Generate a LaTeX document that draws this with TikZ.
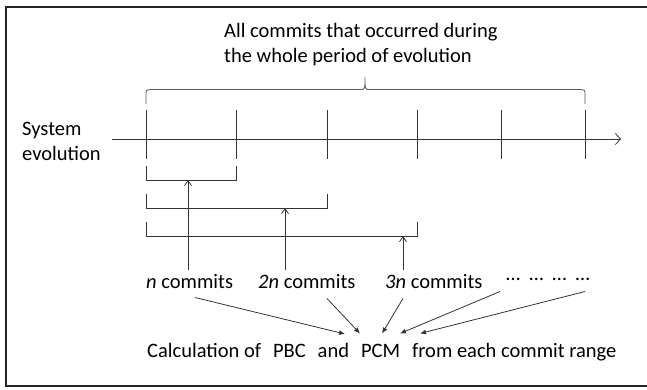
\documentclass[tikz,border=0pt]{standalone}
\usepackage{fontspec}
\setmainfont{Carlito}
\usetikzlibrary{arrows.meta}
\begin{document}
\begin{tikzpicture}[x=1pt,y=-1pt,
  ln/.style={line width=0.8pt, draw=black!80},
  txt/.style={inner sep=0pt, anchor=west, font=\fontsize{20.5}{25}\selectfont, text=black},
  upar/.style={ln, -{Straight Barb[length=5pt,width=7pt]}},
  dnar/.style={ln, -{Latex[length=6pt,width=5pt]}}]
\useasboundingbox (0,0) rectangle (647,389);
% frame
\draw[line width=1.6pt, draw=black!85] (647,7) -- (6,7) -- (6,386) -- (647,386);
% texts
\node[txt, align=left] (title) at (224,45) {All commits that occurred during\\the whole period of evolution};
\node[txt, align=left] (sys) at (22,141) {System\\evolution};
% axis
\coordinate (ax0) at (112,139);
\coordinate (ax1) at (621,139);
\draw[ln, -{Straight Barb[length=5pt,width=11pt]}] (ax0) -- (ax1);
\foreach \x/\n in {146/t0,236/t1,327/t2,417/t3,501/t4,585/t5}{
  \coordinate (\n a) at (\x,110);
  \coordinate (\n b) at (\x,159);
  \draw[ln] (\n a) -- (\n b);
}
% brace
\draw[line width=0.8pt, draw=black!65] (146,104) -- (146,95) .. controls (146,90) .. (151,89.5) -- (360,89.5) .. controls (365,89.5) .. (365,77) .. controls (365,89.5) .. (370,89.5) -- (580,89.5) .. controls (585,90) .. (585,95) -- (585,104);
% range brackets
\coordinate (r1) at (188,180);
\coordinate (r2) at (285,208);
\coordinate (r3) at (403,236);
\draw[ln] (146,166) -- (146,180) -- (236,180) -- (236,166);
\draw[ln] (146,194) -- (146,208) -- (327,208) -- (327,194);
\draw[ln] (146,222) -- (146,236) -- (417,236) -- (417,222);
% commit texts
\node[txt] (c1) at (146,282) {\textit{n} commits};
\node[txt] (c2) at (258,282) {\textit{2n} commits};
\node[txt] (c3) at (385,282) {\textit{3n} commits};
\node[txt] (c4) at (506,279) {…\hspace{9pt}…\hspace{9pt}…\hspace{9pt}…};
\draw[upar] (c1.north -| r1) ++(0,-5) -- (r1);
\draw[upar] (c2.north -| r2) ++(0,-5) -- (r2);
\draw[upar] (c3.north -| r3) ++(0,-5) -- (r3);
% bottom text
\node[txt] (calc) at (147,352) {Calculation of\hspace{12pt}PBC\hspace{12pt}and\hspace{12pt}PCM\hspace{12pt}from each commit range};
\coordinate (s1) at (195,297.5);
\coordinate (s2) at (327,298.5);
\coordinate (s3) at (403,298.5);
\coordinate (s4) at (500,291.5);
\coordinate (s5) at (585,291.5);
\coordinate (e1) at (345,334);
\coordinate (e2) at (360,333.5);
\coordinate (e3) at (382,333.5);
\coordinate (e4) at (400,333.5);
\coordinate (e5) at (420,333.5);
\foreach \i in {1,...,5}{\draw[dnar] (s\i) -- (e\i);}
\end{tikzpicture}
\end{document}
